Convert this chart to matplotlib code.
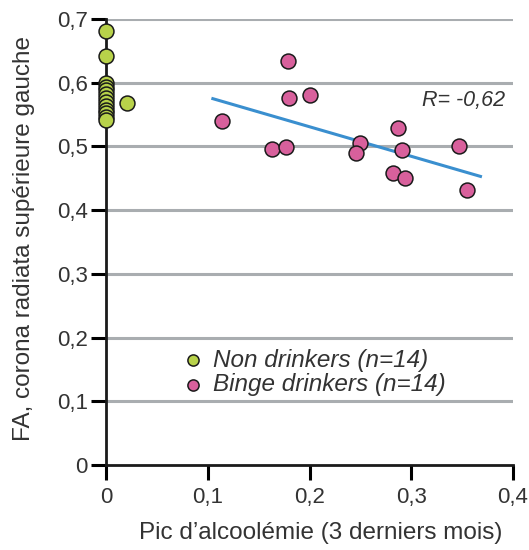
import matplotlib.pyplot as plt
import numpy as np

plt.rcParams["font.family"] = ["Liberation Sans", "DejaVu Sans"]

# data
non_x = [0, 0, 0, 0, 0, 0, 0, 0, 0, 0, 0, 0, 0, 0.021]
non_y = [0.681, 0.642, 0.600, 0.594, 0.588, 0.582, 0.576, 0.570, 0.564,
         0.558, 0.552, 0.546, 0.541, 0.568]

binge_x = [0.179, 0.180, 0.200, 0.114, 0.163, 0.177, 0.250, 0.246,
           0.287, 0.291, 0.282, 0.294, 0.347, 0.355]
binge_y = [0.634, 0.576, 0.580, 0.540, 0.496, 0.499, 0.505, 0.489,
           0.529, 0.494, 0.458, 0.450, 0.500, 0.431]

trend_x = [0.105, 0.368]
trend_y = [0.575, 0.453]

x_ticks = [0, 0.1, 0.2, 0.3, 0.4]
x_labels = ["0", "0,1", "0,2", "0,3", "0,4"]
y_ticks = [0, 0.1, 0.2, 0.3, 0.4, 0.5, 0.6, 0.7]
y_labels = ["0", "0,1", "0,2", "0,3", "0,4", "0,5", "0,6", "0,7"]

green = "#b8d24a"
pink = "#d8609c"
grid_col = "#a9adb0"
text_col = "#333333"

fig = plt.figure(figsize=(5.29, 5.5), dpi=100)
ax = fig.add_axes([0.2004, 0.1545, 0.7694, 0.8109])

for v in y_ticks[1:]:
    ax.axhline(v, color=grid_col, linewidth=2.2, zorder=0)

ax.plot(trend_x, trend_y, color="#3a8fcf", linewidth=2.2, zorder=2)

ax.scatter(non_x, non_y, s=115, color=green, edgecolor="#1a1a1a",
           linewidth=1.1, zorder=4, clip_on=False,
           label="Non drinkers (n=14)")
ax.scatter(binge_x, binge_y, s=115, color=pink, edgecolor="#1a1a1a",
           linewidth=1.1, zorder=3, label="Binge drinkers (n=14)")

ax.set_xlim(0, 0.4)
ax.set_ylim(0, 0.7)
ax.set_xticks(x_ticks)
ax.set_xticklabels(x_labels)
ax.set_yticks(y_ticks)
ax.set_yticklabels(y_labels)

for s in ["top", "right"]:
    ax.spines[s].set_visible(False)
for s in ["left", "bottom"]:
    ax.spines[s].set_linewidth(2)
    ax.spines[s].set_color("#1a1a1a")
    ax.spines[s].set_zorder(3)

ax.tick_params(axis="x", length=11, width=2.2, direction="out",
               labelsize=16, labelcolor=text_col, pad=5)
ax.tick_params(axis="y", length=11, width=2.2, direction="out",
               labelsize=16, labelcolor=text_col, pad=2)

ax.set_xlabel("Pic d\u2019alcoolémie (3 derniers mois)", fontsize=17.5,
              color=text_col)
ax.xaxis.set_label_coords(0.528, -0.128)
ax.set_ylabel("FA, corona radiata supérieure gauche", fontsize=17.5,
              color=text_col)
ax.yaxis.set_label_coords(-0.174, 0.509)

ax.text(0.392, 0.572, "R= -0,62", fontsize=15.5, style="italic",
        color=text_col, ha="right", va="center")

leg = ax.legend(loc="lower left", bbox_to_anchor=(0.183, 0.155),
                frameon=False, fontsize=17.5, handletextpad=0.35,
                labelspacing=0.05, borderpad=0.0, markerscale=0.75,
                handlelength=1.0, borderaxespad=0)
for t in leg.get_texts():
    t.set_style("italic")
    t.set_color(text_col)

fig.savefig("out.png", dpi=100)
